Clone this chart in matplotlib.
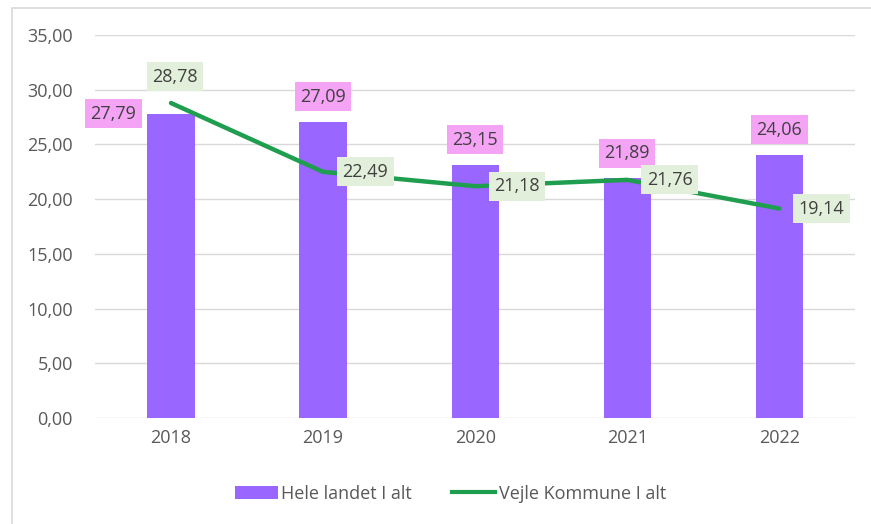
import matplotlib.pyplot as plt
from matplotlib.patches import Rectangle
from matplotlib.lines import Line2D
from matplotlib.patches import Patch

years = ["2018", "2019", "2020", "2021", "2022"]
hele_landet = [27.79, 27.09, 23.15, 21.89, 24.06]
vejle = [28.78, 22.49, 21.18, 21.76, 19.14]

bar_color = "#9966FF"
line_color = "#1E9E4E"
text_color = "#595959"
fs = 13

plt.rcParams["font.family"] = ["Open Sans", "DejaVu Sans"]

fig = plt.figure(figsize=(8.71, 5.24), dpi=100)
ax = fig.add_axes([0.109, 0.2023, 0.873, 0.731])

# chart frame
fig.patches.append(Rectangle((0.0135, -0.05), 1.2, 1.034, transform=fig.transFigure,
                             fill=False, edgecolor="#D9D9D9", linewidth=1.2))

x = list(range(len(years)))
ax.bar(x, hele_landet, width=0.31, color=bar_color, zorder=2)
ax.plot(x, vejle, color=line_color, linewidth=3.2, zorder=3, solid_capstyle="round")

ax.set_xlim(-0.5, len(years) - 0.5)
ax.set_ylim(0, 35)
ax.set_yticks([0, 5, 10, 15, 20, 25, 30, 35])
ax.set_yticklabels([f"{v:.2f}".replace(".", ",") for v in ax.get_yticks()])
ax.set_xticks(x)
ax.set_xticklabels(years)
ax.tick_params(length=0, colors=text_color, labelsize=fs)
ax.tick_params(axis="y", pad=16)
ax.tick_params(axis="x", pad=8)
ax.grid(axis="y", color="#D9D9D9", linewidth=1, zorder=0)
for s in ax.spines.values():
    s.set_visible(False)

fmt = lambda v: f"{v:.2f}".replace(".", ",")
pink = dict(boxstyle="square,pad=0.3", facecolor="#F5A3F5", edgecolor="none")
green = dict(boxstyle="square,pad=0.3", facecolor="#E2EFDA", edgecolor="none")

# bar labels
for i, v in enumerate(hele_landet):
    if i == 0:
        ax.annotate(fmt(v), (i, v), xytext=(-25, 0), textcoords="offset points",
                    ha="right", va="center", fontsize=fs, color="#404040",
                    bbox=pink, zorder=5)
    else:
        ax.annotate(fmt(v), (i, v), xytext=(0, 18), textcoords="offset points",
                    ha="center", va="center", fontsize=fs, color="#404040",
                    bbox=pink, zorder=5)

# line labels
for i, v in enumerate(vejle):
    if i == 0:
        ax.annotate(fmt(v), (i, v), xytext=(3, 19), textcoords="offset points",
                    ha="center", va="center", fontsize=fs, color="#404040",
                    bbox=green, zorder=5)
    else:
        ax.annotate(fmt(v), (i, v), xytext=(14, 0), textcoords="offset points",
                    ha="left", va="center", fontsize=fs, color="#404040",
                    bbox=green, zorder=5)

handles = [Patch(facecolor=bar_color, edgecolor="none"),
           Line2D([0], [0], color=line_color, linewidth=3)]
fig.legend(handles, ["Hele landet I alt", "Vejle Kommune I alt"], loc="center",
           bbox_to_anchor=(0.517, 0.058), ncol=2, frameon=False, fontsize=fs,
           labelcolor=text_color, handlelength=2.4, handletextpad=0.2, columnspacing=2.2)

fig.savefig("out.png", dpi=100)
